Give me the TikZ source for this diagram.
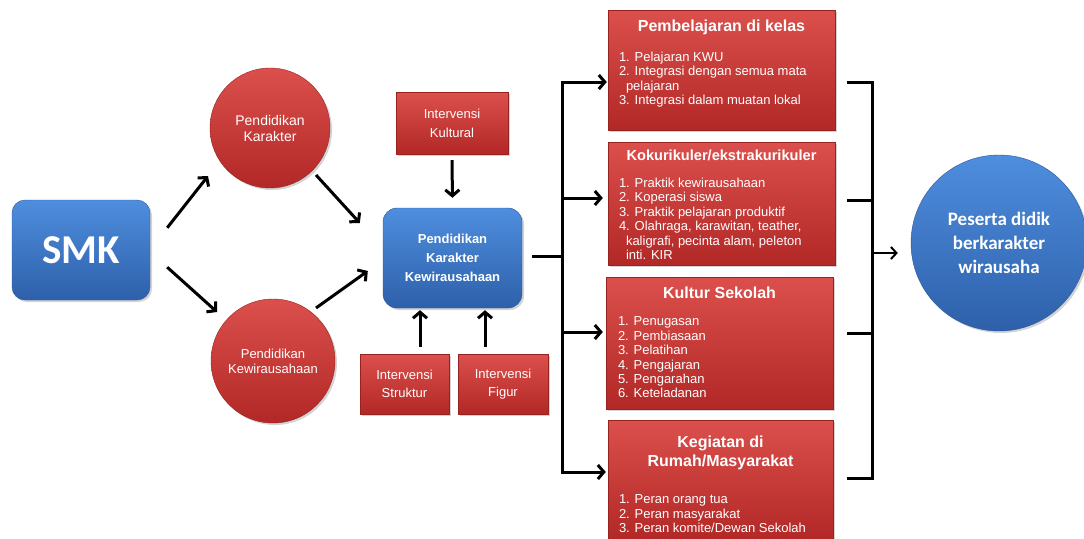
\documentclass[tikz,border=0pt]{standalone}
\usepackage{fontspec}
\setmainfont{Liberation Sans}
\newfontfamily\calibrifont{Carlito}
\usetikzlibrary{arrows.meta,shadows,calc}
\definecolor{redtop}{RGB}{219,80,76}
\definecolor{redbot}{RGB}{178,40,38}
\definecolor{bluetop}{RGB}{78,142,222}
\definecolor{bluebot}{RGB}{46,96,170}
\begin{document}
\begin{tikzpicture}[x=1pt,y=-1pt,
  shad/.style={drop shadow={opacity=0.35,shadow xshift=2pt,shadow yshift=-2pt}},
  redbox/.style={rectangle,top color=redtop,bottom color=redbot,draw=redbot!85!black,line width=0.4pt,shad,inner sep=0pt,text=white,align=center},
  bluebox/.style={rectangle,rounded corners=13pt,top color=bluetop,bottom color=bluebot,draw=bluebot!90!black,line width=0.4pt,shad,inner sep=0pt,text=white,align=center},
  redcirc/.style={circle,top color=redtop,bottom color=redbot,draw=redbot!85!black,line width=0.4pt,shad,inner sep=0pt,text=white,align=center},
  bluecirc/.style={circle,top color=bluetop,bottom color=bluebot,draw=bluebot!90!black,line width=0.4pt,shad,inner sep=0pt,text=white,align=center},
  titletxt/.style={text=white,align=center,inner sep=0pt,font=\bfseries\fontsize{16}{19}\selectfont},
  listtxt/.style={text=white,align=left,inner sep=0pt,anchor=north west,font=\fontsize{13}{14.4}\selectfont},
  arr/.style={line width=3pt,-{Straight Barb[length=6pt,width=14pt]}},
  arrb/.style={line width=2pt,-{Straight Barb[length=5.5pt,width=12pt]}},
  bus/.style={line width=3pt,line join=miter}
]
\useasboundingbox (0,0) rectangle (1084,538);

% left part
\node[bluebox,minimum width=138pt,minimum height=100pt,font=\calibrifont\bfseries\fontsize{41}{45}\selectfont] (smk) at (81,250) {SMK};
\node[redcirc,minimum size=120pt,font=\fontsize{14}{16}\selectfont] (pk) at (270,128) {Pendidikan\\Karakter};
\node[redcirc,minimum size=124pt,font=\fontsize{13}{15}\selectfont] (pkew) at (273,361) {Pendidikan\\Kewirausahaan};
\node[bluebox,rounded corners=14pt,minimum width=139pt,minimum height=100pt,font=\bfseries\fontsize{13}{19}\selectfont] (pkk) at (452.5,258) {Pendidikan\\Karakter\\Kewirausahaan};
\node[redbox,minimum width=112pt,minimum height=62pt,font=\fontsize{13}{19}\selectfont] (kult) at (452,123) {Intervensi\\Kultural};
\node[redbox,minimum width=89pt,minimum height=60pt,font=\fontsize{13}{18}\selectfont] (strk) at (404.5,384) {Intervensi\\Struktur};
\node[redbox,minimum width=90pt,minimum height=60pt,font=\fontsize{13}{18}\selectfont] (fig) at (503,384) {Intervensi\\Figur};

% right boxes
\node[redbox,minimum width=227pt,minimum height=120pt] (box1) at (721.5,70) {};
\node[titletxt] (box1t) at ($(box1.north)+(0,18)$) {Pembelajaran di kelas};
\node[listtxt] (box1l) at ($(box1.north west)+(11,42)$) {1. Pelajaran KWU\\2. Integrasi dengan semua mata\\\hspace*{7pt}pelajaran\\3. Integrasi dalam muatan lokal};

\node[redbox,minimum width=227pt,minimum height=123pt] (box2) at (721.5,203.5) {};
\node[titletxt,font=\bfseries\fontsize{14.6}{19}\selectfont] (box2t) at ($(box2.north)+(0,14)$) {Kokurikuler/ekstrakurikuler};
\node[listtxt] (box2l) at ($(box2.north west)+(11,36)$) {1. Praktik kewirausahaan\\2. Koperasi siswa\\3. Praktik pelajaran produktif\\4. Olahraga, karawitan, teather,\\\hspace*{7pt}kaligrafi, pecinta alam, peleton\\\hspace*{7pt}inti. KIR};

\node[redbox,minimum width=227pt,minimum height=132pt] (box3) at (719.5,343) {};
\node[titletxt] (box3t) at ($(box3.north)+(0,16)$) {Kultur Sekolah};
\node[listtxt] (box3l) at ($(box3.north west)+(12,40)$) {1. Penugasan\\2. Pembiasaan\\3. Pelatihan\\4. Pengajaran\\5. Pengarahan\\6. Keteladanan};

\node[redbox,minimum width=225pt,minimum height=120pt] (box4) at (720.5,480) {};
\node[titletxt] (box4t) at ($(box4.north)+(0,33.5)$) {Kegiatan di\\Rumah/Masyarakat};
\node[listtxt] (box4l) at ($(box4.north west)+(11,75)$) {1. Peran orang tua\\2. Peran masyarakat\\3. Peran komite/Dewan Sekolah};

\node[bluecirc,minimum size=176pt,font=\calibrifont\bfseries\fontsize{19}{24}\selectfont] (peserta) at (999,243) {Peserta didik\\berkarakter\\wirausaha};

% arrows left
\draw[arr] ($(smk.north east)+(17,28)$) -- ($(pk.center)+(-62,48)$);
\draw[arr] ($(smk.south east)+(17,-33)$) -- ($(pkew.center)+(-56,-49)$);
\draw[arr] ($(pk.center)+(46,47)$) -- ($(pkk.west)+(-23,-35)$);
\draw[arr] ($(pkew.center)+(43,-53)$) -- ($(pkk.west)+(-15,13)$);
\draw[arr,shorten <=6pt,shorten >=10pt] (kult.south) -- (pkk.north);
\draw[arr] ($(strk.north)+(15.5,-7)$) -- ($(pkk.south)+(-32.5,2)$);
\draw[arr] ($(fig.north)+(-18,-7)$) -- ($(pkk.south)+(32.5,2)$);

% bus
\coordinate (bustop) at ($(box1.west)+(-45,12)$);
\coordinate (busbot) at ($(box4.west)+(-45,-8)$);
\coordinate (pkout) at ($(pkk.east)+(10,-2)$);
\coordinate (t1) at ($(box1.west)+(0,12)$);
\coordinate (t2) at ($(box2.west)+(0,-5.5)$);
\coordinate (t3) at ($(box3.west)+(0,-11)$);
\coordinate (t4) at ($(box4.west)+(0,-8)$);
\draw[bus] (pkout) -- (pkout -| bustop);
\draw[arr,line join=miter,shorten >=1pt] (pkout -| bustop) -- (bustop) -- (t1);
\draw[arr,line join=miter,shorten >=2pt] (pkout -| bustop) -- (busbot) -- (t4);
\draw[arr,shorten >=5pt] (t2 -| bustop) -- (t2);
\draw[arr,shorten >=3pt] (t3 -| bustop) -- (t3);

% right bracket
\coordinate (r1) at ($(box1.east)+(12,12)$);
\coordinate (r2) at ($(box2.east)+(12,-3.5)$);
\coordinate (r3) at ($(box3.east)+(14,-10)$);
\coordinate (r4) at ($(box4.east)+(14,-2)$);
\coordinate (brx) at ($(r1)+(25,0)$);
\draw[bus] (r1) -- (brx) -- (brx |- r4) -- (r4);
\draw[bus] (r2) -- (r2 -| brx);
\draw[bus] (r3) -- (r3 -| brx);
\coordinate (pa) at ($(peserta.west)+(0,10)$);
\draw[arrb,shorten >=13pt] (pa -| brx) -- (pa);
\end{tikzpicture}
\end{document}
